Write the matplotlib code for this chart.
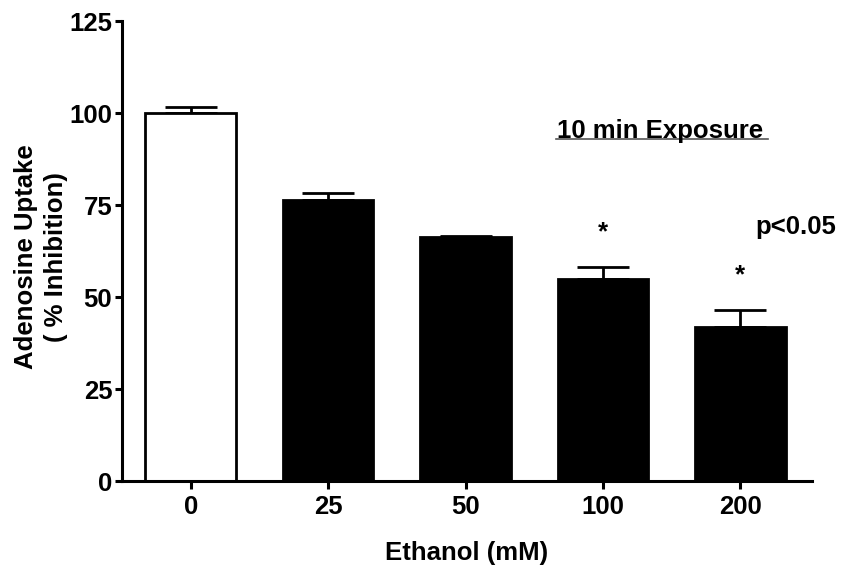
import numpy as np
import matplotlib
matplotlib.use("Agg")
import matplotlib.pyplot as plt

plt.rcParams['font.family'] = ['Liberation Sans', 'DejaVu Sans']
plt.rcParams['font.weight'] = 'bold'

# ethanol dose groups and adenosine uptake (mean, SEM)
doses = ['0', '25', '50', '100', '200']
uptake = [100.0, 76.5, 66.3, 54.9, 41.8]
sem = [1.6, 1.8, 0.2, 3.3, 4.7]
significant = [False, False, False, True, True]

fig = plt.figure(figsize=(8.43, 5.71), dpi=100)
ax = fig.add_axes([0.1447, 0.1576, 0.8183, 0.8054])

x = np.arange(len(doses))
colors = ['white'] + ['black'] * (len(doses) - 1)
ax.bar(x, uptake, width=0.66, color=colors, edgecolor='black', linewidth=2.0, zorder=2)
ax.errorbar(x, uptake, yerr=[np.zeros(len(sem)), sem], fmt='none', ecolor='black',
            elinewidth=2.0, capsize=19, capthick=2.0, zorder=1)

for xi, yi, si, sig in zip(x, uptake, sem, significant):
    if sig:
        ax.text(xi, yi + si + 9.5, '*', ha='center', va='center', fontsize=18.5, fontweight='bold')

ax.set_xlim(-0.5, 4.52)
ax.set_ylim(0, 125)
ax.set_xticks(x)
ax.set_xticklabels(doses)
ax.set_yticks([0, 25, 50, 75, 100, 125])

for side in ['top', 'right']:
    ax.spines[side].set_visible(False)
for side in ['left', 'bottom']:
    ax.spines[side].set_linewidth(2.2)
ax.tick_params(axis='y', width=2.2, length=5, labelsize=18.5, pad=2)
ax.tick_params(axis='x', width=2.2, length=6, labelsize=18.5, pad=4)

ax.set_xlabel('Ethanol (mM)', fontsize=18.5, fontweight='bold', labelpad=16)
ax.set_ylabel('Adenosine Uptake\n( % Inhibition)', fontsize=18.5, fontweight='bold',
              linespacing=1.3)
ax.yaxis.set_label_coords(-0.078, 0.487)

ax.text(0.630, 0.761, '10 min Exposure', transform=ax.transAxes, ha='left', va='center',
        fontsize=18.5, fontweight='bold')
ax.plot([0.629, 0.936], [0.743, 0.743], transform=ax.transAxes, color='#555555',
        linewidth=1.2, clip_on=False)
ax.text(1.036, 0.552, 'p<0.05', transform=ax.transAxes, ha='right', va='center',
        fontsize=18.5, fontweight='bold')

fig.savefig('out.png', dpi=100)
